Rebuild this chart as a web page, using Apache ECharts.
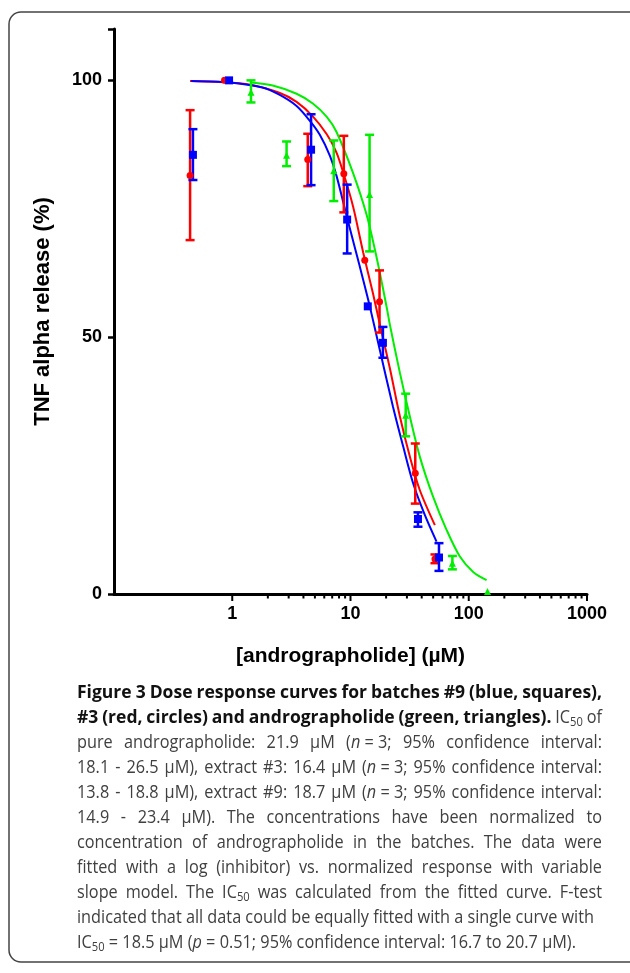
<!DOCTYPE html>
<html><head><meta charset="utf-8">
<script src="https://cdn.jsdelivr.net/npm/echarts@6/dist/echarts.min.js"></script>
<style>html,body{margin:0;padding:0;background:#fff}#c{width:630px;height:973px}</style>
</head><body><div id="c"></div>
<script>
// ---------- data ----------
const xMajorTicks = [1, 10, 100, 1000];
const xMinorTicks = [2,3,4,5,6,7,8,9,20,30,40,50,60,70,80,90,200,300,400,500,600,700,800,900];
const yTicks = [0, 50, 100];

// batch #3 (red, circles)
const redConc = [0.44, 0.86, 4.35, 8.78, 13.2, 17.6, 35.3, 51.8];
const redMean = [81.5, 100, 84.6, 81.8, 65.0, 56.9, 23.5, 6.8];
const redLow  = [68.9, null, 79.4, 74.3, null, 50.9, 17.6, 6.0];
const redHigh = [94.2, null, 89.6, 89.2, null, 63.0, 29.3, 7.7];
const redCurveX = [0.44, 1.3, 2.5, 3.5, 4.8, 6.3, 7.6, 8.7, 10.5, 12.8, 15.5, 17.7, 21.5, 26.2, 31.8, 38.6, 51.7];
const redCurveY = [99.9, 99.3, 97.6, 95.8, 93.0, 89.5, 86.0, 82.0, 75.5, 66.5, 58.5, 52.5, 44.0, 34.5, 26.7, 20.2, 13.4];

// batch #9 (blue, squares)
const blueConc = [0.465, 0.94, 4.64, 9.37, 14.0, 18.8, 37.2, 56.0];
const blueMean = [85.5, 100, 86.5, 72.9, 56.0, 48.9, 14.6, 7.1];
const blueLow  = [80.6, null, 79.6, 66.3, null, 46.0, 13.1, 4.5];
const blueHigh = [90.5, null, 93.4, 79.7, null, 52.0, 15.9, 9.9];
const blueCurveX = [0.45, 0.95, 1.8, 2.5, 3.5, 4.5, 5.5, 6.7, 7.6, 9.3, 12.0, 14.6, 17.7, 22.9, 27.9, 33.9, 42.5, 53.4];
const blueCurveY = [99.9, 99.6, 98.6, 97.2, 95.0, 92.2, 89.4, 85.3, 81.5, 73.5, 63.7, 55.9, 47.5, 36.4, 28.7, 21.5, 15.4, 10.2];

// pure andrographolide (green, triangles)
const greenConc = [1.44, 2.88, 7.22, 14.5, 29.3, 72.7, 144];
const greenMean = [97.7, 85.4, 82.4, 77.8, 34.8, 6.0, 0.5];
const greenLow  = [95.7, 83.3, 76.5, 66.7, 30.7, 4.8, null];
const greenHigh = [100, 88.1, 88.3, 89.4, 39.0, 7.4, null];
const greenCurveX = [1.44, 2.2, 3.5, 4.8, 6.3, 7.6, 10.5, 13.7, 16.6, 20.2, 21.5, 26.2, 31.8, 38.6, 50.0, 64.9, 84.1, 109, 141.5];
const greenCurveY = [99.6, 99.0, 97.4, 95.5, 92.9, 90.0, 82.0, 73.8, 65.6, 55.9, 52.5, 43.0, 34.5, 26.7, 18.9, 12.5, 7.3, 4.3, 2.7];

const xTitle = '[andrographolide] (µM)';
const yTitle = 'TNF alpha release (%)';

// caption: segments [style, text]; b=bold, r=regular, i=italic, s=subscript
const NB = '\u00a0';
const captionLines = [
  [['b','Figure 3 Dose response curves for batches #9 (blue, squares),']],
  [['b','#3 (red, circles) and andrographolide (green, triangles).'],['r',' IC'],['s','50'],['r',' of']],
  [['r','pure andrographolide: 21.9 µM ('],['i','n'],['r',NB+'='+NB+'3; 95% confidence interval:']],
  [['r','18.1 - 26.5 µM), extract #3: 16.4 µM ('],['i','n'],['r',NB+'='+NB+'3; 95% confidence interval:']],
  [['r','13.8 - 18.8 µM), extract #9: 18.7 µM ('],['i','n'],['r',NB+'='+NB+'3; 95% confidence interval:']],
  [['r','14.9 - 23.4 µM). The concentrations have been normalized to']],
  [['r','concentration of andrographolide in the batches. The data were']],
  [['r','fitted with a log (inhibitor) vs. normalized response with variable']],
  [['r','slope model. The IC'],['s','50'],['r',' was calculated from the fitted curve. F-test']],
  [['r','indicated that all data could be equally fitted with a single curve with']],
  [['r','IC'],['s','50'],['r',NB+'='+NB+'18.5 µM ('],['i','p'],['r',NB+'='+NB+'0.51; 95% confidence interval: 16.7 to 20.7 µM).']]
];

// ---------- layout / style ----------
const AX = "'Liberation Sans', Arial, sans-serif";
const CAP = "'Open Sans', sans-serif";
const CAP_FS = 17.5;
const CX = 0.93;   // horizontal condensing of regular caption glyphs
const CXB = 1.0;   // bold words
const CAP_LEFT = 77, CAP_RIGHT = 602, CAP_TOP = 693, CAP_STEP = 25;
const capRight = [CAP_RIGHT,CAP_RIGHT,CAP_RIGHT,CAP_RIGHT,CAP_RIGHT,CAP_RIGHT,CAP_RIGHT,CAP_RIGHT,CAP_RIGHT,594,null];

const RED = '#ff0000', BLUE = '#0000ff', GREEN = '#00ee00';

const chart = echarts.init(document.getElementById('c'), null, {renderer: 'canvas'});

function zip(a, b) { return a.map((v, i) => [v, b[i]]); }
function bars(c, lo, hi) { const out = []; c.forEach((v, i) => { if (lo[i] != null) out.push([v, lo[i], hi[i]]); }); return out; }

function errorBarSeries(name, data, color, z) {
  return {
    name, type: 'custom', data, z, silent: true, clip: false,
    encode: {x: 0, y: [1, 2]},
    renderItem(params, api) {
      const x = api.value(0);
      const a = api.coord([x, api.value(2)]);
      const b = api.coord([x, api.value(1)]);
      const w = 4.5, st = {stroke: color, lineWidth: 2.5};
      return {type: 'group', children: [
        {type: 'line', shape: {x1: a[0], y1: a[1], x2: b[0], y2: b[1]}, style: st},
        {type: 'line', shape: {x1: a[0]-w, y1: a[1], x2: a[0]+w, y2: a[1]}, style: st},
        {type: 'line', shape: {x1: b[0]-w, y1: b[1], x2: b[0]+w, y2: b[1]}, style: st}
      ]};
    }
  };
}
function tickSeries(vals, len) {
  return {
    type: 'custom', data: vals.map(v => [v, 0]), silent: true, clip: false, z: 5,
    encode: {x: 0, y: 1},
    renderItem(params, api) {
      const p = api.coord([api.value(0), 0]);
      return {type: 'line', shape: {x1: p[0], y1: p[1], x2: p[0], y2: p[1] + len}, style: {stroke: '#000', lineWidth: 2}};
    }
  };
}
function curve(name, xs, ys, color) {
  return {name, type: 'line', data: zip(xs, ys), smooth: 0.3, symbol: 'none', z: 3, silent: true,
    lineStyle: {color, width: 2}};
}
function dots(name, xs, ys, color, symbol, size) {
  return {name, type: 'scatter', data: zip(xs, ys), symbol, symbolSize: size, z: 6, silent: true,
    itemStyle: {color, opacity: 1}};
}

// ---------- caption layout ----------
const mctx = document.createElement('canvas').getContext('2d');
const SUB_FS = Math.round(CAP_FS * 0.66);
function fontFor(st) {
  if (st === 'b') return `bold ${CAP_FS}px ${CAP}`;
  if (st === 'i') return `italic ${CAP_FS}px ${CAP}`;
  if (st === 's') return `${SUB_FS}px ${CAP}`;
  return `${CAP_FS}px ${CAP}`;
}
function measure(st, t) { mctx.font = fontFor(st); return mctx.measureText(t).width; }
const rich = {
  b: {fontFamily: CAP, fontSize: CAP_FS, fontWeight: 'bold', fill: '#111', color: '#111', lineHeight: 22},
  r: {fontFamily: CAP, fontSize: CAP_FS, fill: '#404040', color: '#404040', lineHeight: 22},
  i: {fontFamily: CAP, fontSize: CAP_FS, fontStyle: 'italic', fill: '#404040', color: '#404040', lineHeight: 22},
  s: {fontFamily: CAP, fontSize: SUB_FS, fill: '#404040', color: '#404040', lineHeight: 12, verticalAlign: 'bottom'}
};
const captionGraphics = [];
captionLines.forEach((segs, li) => {
  const words = [[]];
  segs.forEach(([st, t]) => {
    t.split(' ').forEach((part, i) => {
      if (i > 0) words.push([]);
      if (part) words[words.length-1].push([st, part]);
    });
  });
  const ws = words.filter(w => w.length);
  const base = ws.map(w => (w.some(s => s[0] === 'b') ? CXB : CX));
  const widths = ws.map((w, k) => w.reduce((s, [st, t]) => s + measure(st, t), 0) * base[k]);
  const total = widths.reduce((a, b) => a + b, 0);
  const right = capRight[li];
  const space = measure('r', ' ') * CX;
  const minGap = space * 0.8;
  let f = 1, gap = space;
  if (right != null && ws.length > 1) {
    const W = right - CAP_LEFT;
    if (total + minGap * (ws.length - 1) > W) { f = (W - minGap * (ws.length - 1)) / total; gap = minGap; }
    else gap = (W - total) / (ws.length - 1);
  }
  let x = CAP_LEFT;
  const y = CAP_TOP + li * CAP_STEP;
  ws.forEach((w, k) => {
    captionGraphics.push({
      type: 'text', x, y, scaleX: base[k] * f, silent: true,
      style: {text: w.map(([st, t]) => `{${st}|${t}}`).join(''), rich, align: 'left', verticalAlign: 'middle',
        font: `${CAP_FS}px ${CAP}`}
    });
    x += widths[k] * f + gap;
  });
});

const option = {
  animation: false,
  backgroundColor: '#fff',
  grid: {left: 114, right: 43, top: 29, bottom: 379, containLabel: false},
  xAxis: {
    type: 'log', logBase: 10, min: 0.1, max: 1000,
    axisLine: {show: true, onZero: false, lineStyle: {color: '#000', width: 3}},
    axisTick: {show: false}, splitLine: {show: false}, minorTick: {show: false},
    axisLabel: {formatter: v => (v < 0.5 ? '' : String(Math.round(v))), fontFamily: AX, fontWeight: 'bold', fontSize: 18, color: '#000', margin: 11},
    name: xTitle, nameLocation: 'middle', nameGap: 52,
    nameTextStyle: {fontFamily: AX, fontWeight: 'bold', fontSize: 21, color: '#000'}
  },
  yAxis: {
    type: 'value', min: 0, max: 110, interval: 50,
    axisLine: {show: true, lineStyle: {color: '#000', width: 3}},
    axisTick: {show: true, length: 6, lineStyle: {color: '#000', width: 2.5}},
    splitLine: {show: false},
    axisLabel: {formatter: v => (yTicks.indexOf(v) >= 0 ? String(v) : ''), fontFamily: AX, fontWeight: 'bold', fontSize: 18, color: '#000', margin: 12},
    name: yTitle, nameLocation: 'middle', nameGap: 60, nameRotate: 90,
    nameTextStyle: {fontFamily: AX, fontWeight: 'bold', fontSize: 22, color: '#000'}
  },
  graphic: [
    {type: 'rect', shape: {x: 9, y: 12, width: 700, height: 950, r: 12}, silent: true,
      style: {fill: 'none', stroke: '#444', lineWidth: 1.5}, z: -1}
  ].concat(captionGraphics),
  series: [
    tickSeries(xMajorTicks, 7),
    tickSeries(xMinorTicks, 4.5),
    curve('green fit', greenCurveX, greenCurveY, GREEN),
    curve('red fit', redCurveX, redCurveY, RED),
    curve('blue fit', blueCurveX, blueCurveY, BLUE),
    errorBarSeries('green err', bars(greenConc, greenLow, greenHigh), GREEN, 4),
    errorBarSeries('red err', bars(redConc, redLow, redHigh), RED, 4),
    errorBarSeries('blue err', bars(blueConc, blueLow, blueHigh), BLUE, 4),
    dots('andrographolide', greenConc, greenMean, GREEN, 'triangle', 7),
    dots('#3', redConc, redMean, RED, 'circle', 7),
    dots('#9', blueConc, blueMean, BLUE, 'rect', 8)
  ]
};
chart.setOption(option);
</script>
</body></html>
